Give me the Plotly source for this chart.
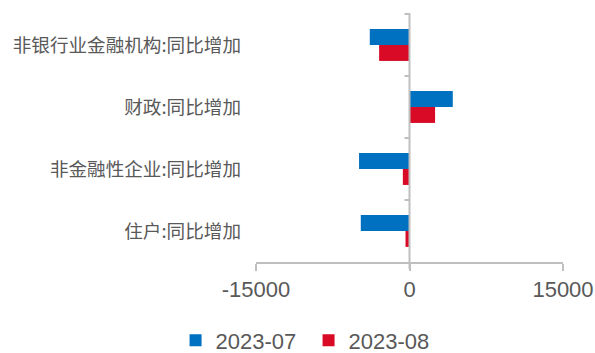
import plotly.graph_objects as go

categories = ["非银行业金融机构:同比增加", "财政:同比增加", "非金融性企业:同比增加", "住户:同比增加"]
series_names = ["2023-07", "2023-08"]
values_2023_07 = [-3880, 4230, -4930, -4760]
values_2023_08 = [-2970, 2500, -650, -390]
x_ticks = [-15000, 0, 15000]
x_tick_labels = ["-15000", "0", "15000"]

BLUE = "#0070C0"
RED = "#D90A25"
GREY = "#BFBFBF"
TEXT = "#595959"

fig = go.Figure()
fig.add_trace(go.Bar(y=categories, x=values_2023_07, name=series_names[0], orientation="h",
                     marker=dict(color=BLUE, line=dict(width=0))))
fig.add_trace(go.Bar(y=categories, x=values_2023_08, name=series_names[1], orientation="h",
                     marker=dict(color=RED, line=dict(width=0))))

shapes = [
    dict(type="line", xref="x", yref="paper", x0=0, x1=0, y0=-0.028, y1=1,
         line=dict(color=GREY, width=2), layer="above"),
]
for b in [-0.5, 0.5, 1.5, 2.5]:
    shapes.append(dict(type="line", xref="x", yref="y", xsizemode="pixel", xanchor=0,
                       x0=-5, x1=0, y0=b, y1=b, line=dict(color=GREY, width=2)))

fig.update_layout(
    width=595, height=353,
    margin=dict(l=256, r=32, t=13, b=91, autoexpand=False),
    paper_bgcolor="white", plot_bgcolor="white",
    barmode="group", bargap=0.486, bargroupgap=0,
    showlegend=True,
    legend=dict(orientation="h", x=-0.262, xanchor="left", y=-0.315, yanchor="middle",
                font=dict(family="Liberation Sans, Arial", size=22, color=TEXT),
                traceorder="normal", itemwidth=30, entrywidth=88, entrywidthmode="pixels"),
    xaxis=dict(range=[-15000, 15000], tickvals=x_ticks, ticktext=x_tick_labels,
               showgrid=False, zeroline=False, showline=True, linecolor=GREY, linewidth=2,
               ticks="outside", ticklen=7, tickcolor=GREY, tickwidth=2,
               tickfont=dict(family="Liberation Sans, Arial", size=22, color=TEXT)),
    yaxis=dict(autorange="reversed", showgrid=False, zeroline=False, showline=False,
               ticks="", ticklabelstandoff=14,
               tickfont=dict(family="Noto Sans CJK SC", size=18.6, color=TEXT)),
    shapes=shapes,
)

fig.write_html("out.html")
